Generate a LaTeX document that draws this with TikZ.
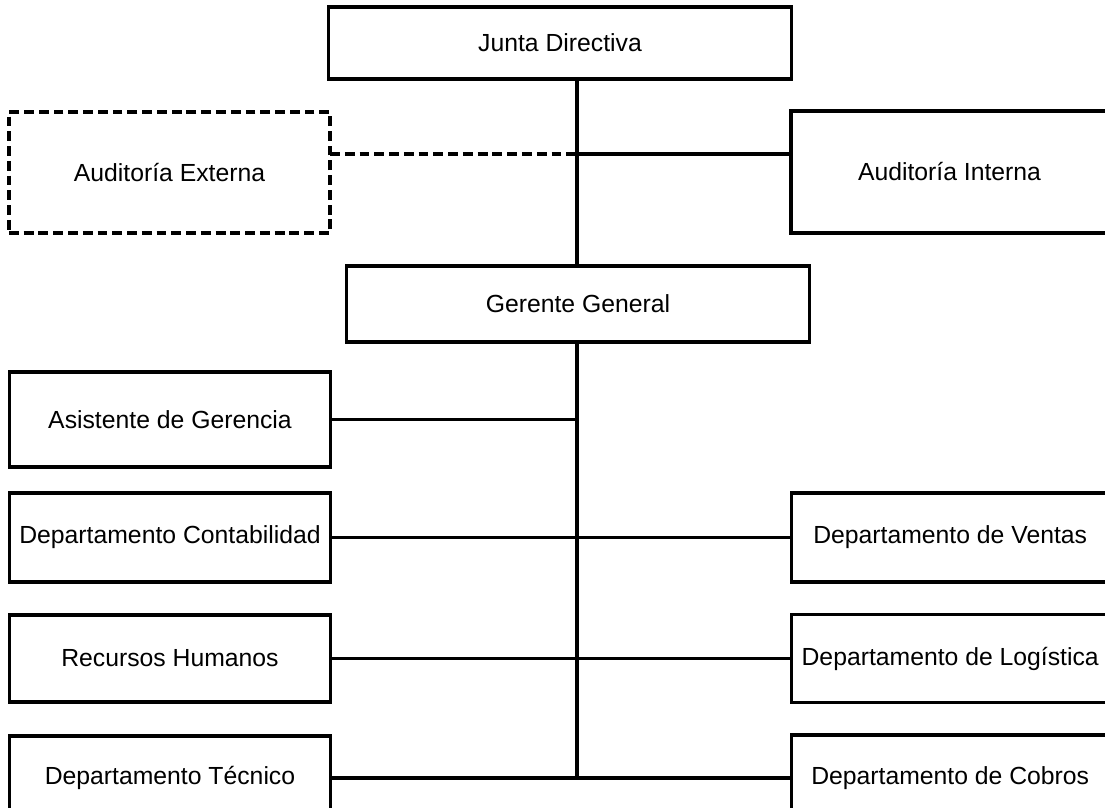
\documentclass[tikz,border=0pt]{standalone}
\usepackage{fontspec}
\setmainfont{Liberation Sans}
\usetikzlibrary{positioning}

\begin{document}
\begin{tikzpicture}[x=0.025cm,y=-0.025cm,every node/.style={box},
  box/.style={draw,rectangle,line width=2.2pt,inner sep=0pt,outer sep=0pt,
    font=\fontsize{17.6}{21}\selectfont,minimum width=8.025cm},
  rbox/.style={box,minimum width=7.925cm},
  link/.style={line width=2.2pt}]

        \useasboundingbox (0,0) rectangle (1105,808);
        \clip (0,0) rectangle (1105,808);

        \node (junta) [minimum width=11.55cm,minimum height=1.8cm] at (560,43) {Junta Directiva};
        \node (aext) [dashed,dash pattern=on 7pt off 3.5pt,minimum height=3.025cm] at (169.5,172.5) {Auditoría Externa};
        \node (aint) [rbox,minimum height=3.05cm] at (949.5,172) {Auditoría Interna};
        \node (ger) [minimum width=11.55cm,minimum height=1.9cm] at (578,304) {Gerente General};

        \node (asis) [minimum height=2.375cm] at (170,419.5) {Asistente de Gerencia};
        \node (cont) [minimum height=2.225cm] at (170,537.5) {Departamento Contabilidad};
        \node (rrhh) [minimum height=2.175cm] at (170,658.5) {Recursos Humanos};
        \node (tec)  [minimum height=2.1cm] at (170,778) {Departamento Técnico};

        \node (vent) [rbox,minimum height=2.225cm,right=11.525cm of cont] {Departamento de Ventas};
        \node (logi) [rbox,minimum height=2.2cm,right=11.525cm of rrhh] {Departamento de Logística};
        \node (cob)  [rbox,minimum height=2.15cm,right=11.525cm of tec] {Departamento de Cobros};

        % trunk
        \coordinate (tr) at (577,154);
        \coordinate (bot) at (577,778);
        \draw[link] (junta.south -| tr) -- (ger.north -| tr);
        \draw[link] (ger.south -| tr) -- (bot);

        \draw[link,dash pattern=on 7pt off 3.5pt] (aext.east |- tr) -- (tr);
        \draw[link] (tr) -- (aint.west |- tr);
        \draw[link] (asis) -- (asis -| tr);
        \foreach \l/\r in {cont/vent,rrhh/logi,tec/cob}
          \draw[link] (\l) -- (\r);
      \end{tikzpicture}
\end{document}
